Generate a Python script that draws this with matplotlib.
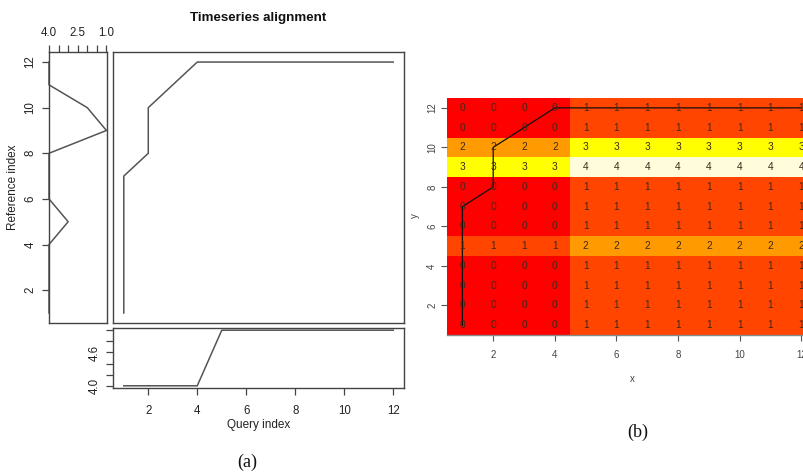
import matplotlib
matplotlib.use("Agg")
import matplotlib.pyplot as plt
import numpy as np
from matplotlib.colors import ListedColormap, BoundaryNorm

W, H = 804, 476
plt.rcParams['font.family'] = ['Liberation Sans', 'DejaVu Sans']

# ---------------- data ----------------
query_index = list(range(1, 13))
query_values = [4, 4, 4, 4, 5, 5, 5, 5, 5, 5, 5, 5]
reference_index = list(range(1, 13))
reference_values = [4, 4, 4, 4, 3, 4, 4, 4, 1, 2, 4, 4]

# warping path (query index, reference index)
path_query = [1, 1, 1, 1, 1, 1, 1, 2, 2, 2, 3, 4, 5, 6, 7, 8, 9, 10, 11, 12]
path_ref = [1, 2, 3, 4, 5, 6, 7, 8, 9, 10, 11, 12, 12, 12, 12, 12, 12, 12, 12, 12]

# local cost matrix rows (reference index 1..12), columns = query index 1..12
cost_rows = [
    [0, 0, 0, 0, 1, 1, 1, 1, 1, 1, 1, 1],
    [0, 0, 0, 0, 1, 1, 1, 1, 1, 1, 1, 1],
    [0, 0, 0, 0, 1, 1, 1, 1, 1, 1, 1, 1],
    [0, 0, 0, 0, 1, 1, 1, 1, 1, 1, 1, 1],
    [1, 1, 1, 1, 2, 2, 2, 2, 2, 2, 2, 2],
    [0, 0, 0, 0, 1, 1, 1, 1, 1, 1, 1, 1],
    [0, 0, 0, 0, 1, 1, 1, 1, 1, 1, 1, 1],
    [0, 0, 0, 0, 1, 1, 1, 1, 1, 1, 1, 1],
    [3, 3, 3, 3, 4, 4, 4, 4, 4, 4, 4, 4],
    [2, 2, 2, 2, 3, 3, 3, 3, 3, 3, 3, 3],
    [0, 0, 0, 0, 1, 1, 1, 1, 1, 1, 1, 1],
    [0, 0, 0, 0, 1, 1, 1, 1, 1, 1, 1, 1],
]
cost_colors = ['#FF0000', '#FF4500', '#FF9A00', '#FFFF00', '#FFFDDC']

# ---------------- helpers ----------------
def ax_px(x0, y0, x1, y1):
    return fig.add_axes([x0 / W, 1 - y1 / H, (x1 - x0) / W, (y1 - y0) / H])

BOX = '#444444'
LINE = '#555555'
TXT = '#222222'

fig = plt.figure(figsize=(W / 100, H / 100), dpi=100)

def style_box(ax):
    for s in ax.spines.values():
        s.set_color(BOX)
        s.set_linewidth(1.0)
    ax.tick_params(colors=BOX, labelcolor=TXT, labelsize=8.3, length=5, width=0.9)

# ---------------- (a) left: reference ----------------
axL = ax_px(49, 52, 107, 323)
axL.plot(reference_values, reference_index, color=LINE, lw=1.1, clip_on=False)
axL.set_xlim(4.0, 0.97)
axL.set_ylim(0.56, 12.44)
style_box(axL)
axL.xaxis.tick_top()
axL.set_xticks([4.0, 3.5, 3.0, 2.5, 2.0, 1.5, 1.0])
axL.set_xticklabels(['4.0', '', '', '2.5', '', '', '1.0'])
axL.tick_params(axis='x', pad=4)
axL.set_yticks([2, 4, 6, 8, 10, 12])
for lab in axL.get_yticklabels():
    lab.set_rotation(90)
    lab.set_va('center')
axL.tick_params(axis='y', pad=4)
axL.set_ylabel('Reference index', fontsize=8.5, color=TXT, labelpad=4)

# ---------------- (a) main: alignment path ----------------
axM = ax_px(113, 52, 404, 323)
axM.plot(path_query, path_ref, color=LINE, lw=1.1)
axM.set_xlim(0.56, 12.44)
axM.set_ylim(0.56, 12.44)
style_box(axM)
axM.set_xticks([])
axM.set_yticks([])
axM.set_title('Timeseries alignment', fontsize=9.6, fontweight='bold', pad=22, color='#111111')

# ---------------- (a) bottom: query ----------------
axB = ax_px(113, 328, 404, 388)
axB.plot(query_index, query_values, color=LINE, lw=1.1)
axB.set_xlim(0.56, 12.44)
axB.set_ylim(3.96, 5.04)
style_box(axB)
axB.set_xticks([2, 4, 6, 8, 10, 12])
axB.tick_params(axis='x', pad=7)
axB.set_yticks([4.0, 4.2, 4.4, 4.6, 4.8, 5.0])
axB.set_yticklabels(['4.0', '', '', '4.6', '', ''])
for lab in axB.get_yticklabels():
    lab.set_rotation(90)
    lab.set_va('center')
axB.tick_params(axis='y', pad=4)
axB.set_xlabel('Query index', fontsize=8.5, color=TXT, labelpad=2)

fig.text(247 / W, 1 - 462 / H, '(a)', fontsize=13, family='Liberation Serif',
         ha='center', va='center', color='#111111')

# ---------------- (b) heatmap ----------------
axH = ax_px(447, 98, 816.6, 335)
cmap = ListedColormap(cost_colors)
norm = BoundaryNorm(np.arange(-0.5, 5.5, 1), cmap.N)
C = np.array(cost_rows)
xe = np.arange(0.5, 12.6, 1)
ye = np.arange(0.5, 12.6, 1)
axH.pcolormesh(xe, ye, C, cmap=cmap, norm=norm)
for j, row in enumerate(cost_rows):
    for i, v in enumerate(row):
        axH.text(query_index[i], reference_index[j], str(v), ha='center', va='center',
                 fontsize=7.3, color='#3a2a1a')
axH.plot(path_query, path_ref, color='#111111', lw=0.9)
axH.set_xlim(0.5, 12.5)
axH.set_ylim(0.5, 12.5)
for s in ['top', 'right', 'left']:
    axH.spines[s].set_visible(False)
axH.spines['bottom'].set_color('#888888')
axH.spines['bottom'].set_linewidth(1.0)
axH.set_xticks([2, 4, 6, 8, 10, 12])
axH.set_yticks([2, 4, 6, 8, 10, 12])
axH.tick_params(colors='#555555', labelcolor='#444444', labelsize=7, length=4, width=0.8)
axH.tick_params(axis='x', pad=7)
axH.tick_params(axis='y', pad=3)
for lab in axH.get_yticklabels():
    lab.set_rotation(90)
    lab.set_va('center')
fig.text(632 / W, 1 - 379 / H, 'x', fontsize=7, color='#444444', ha='center', va='center')
fig.text(415 / W, 1 - 216 / H, 'y', fontsize=7, color='#444444', ha='center', va='center',
         rotation=90)
fig.text(638 / W, 1 - 432 / H, '(b)', fontsize=13, family='Liberation Serif',
         ha='center', va='center', color='#111111')

fig.savefig('out.png', dpi=100)
